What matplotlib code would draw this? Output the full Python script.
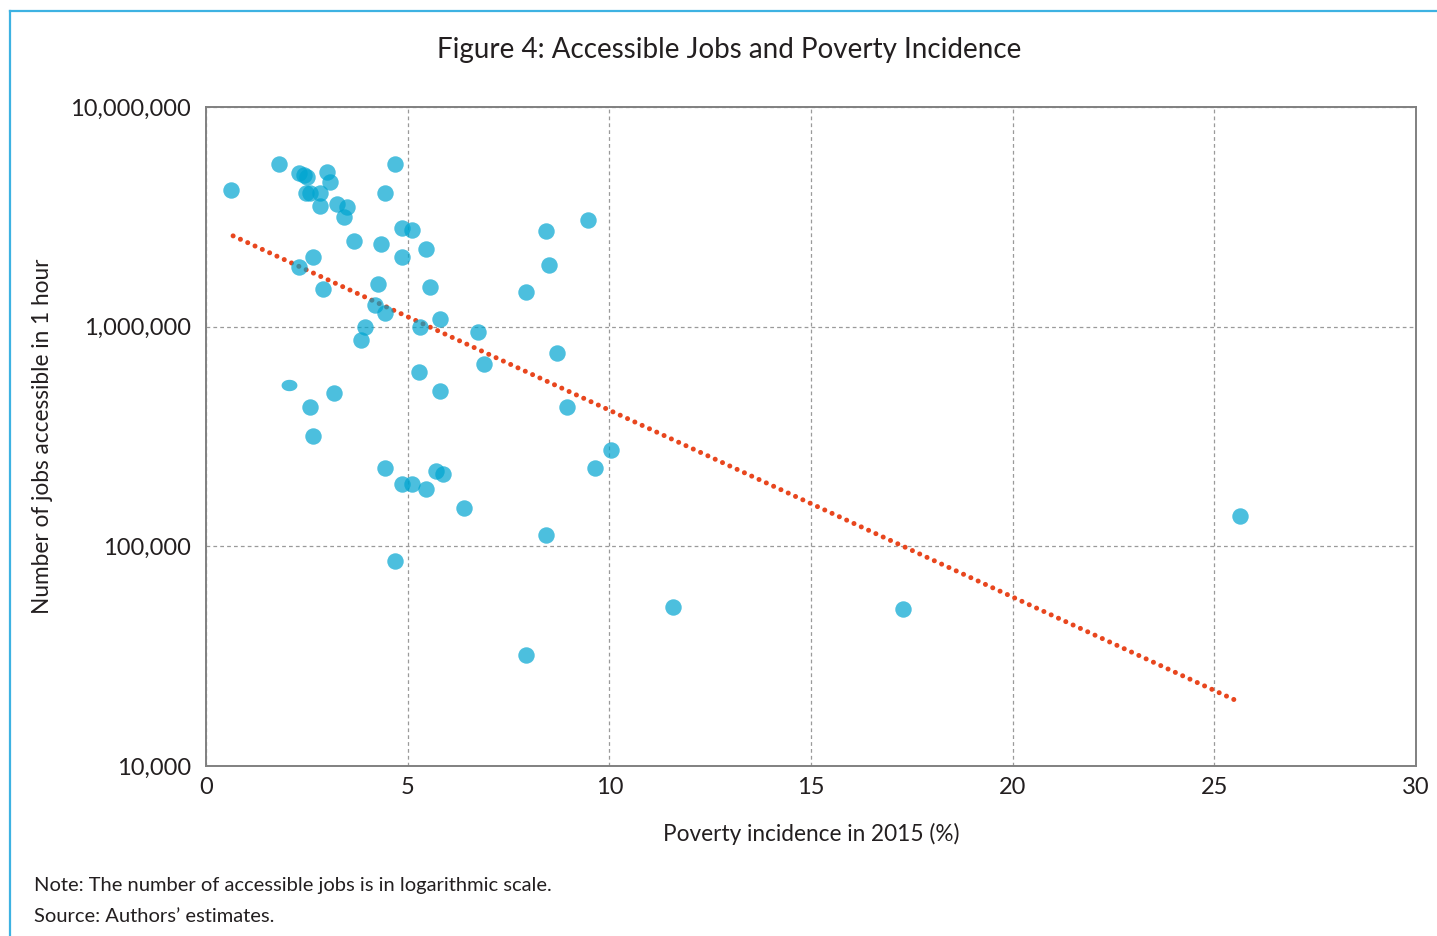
import numpy as np
import matplotlib.pyplot as plt
from matplotlib.lines import Line2D
from matplotlib.path import Path
from matplotlib.ticker import FixedLocator, FuncFormatter, NullLocator

plt.rcParams['font.family'] = ['Lato', 'DejaVu Sans']

# Poverty incidence (%) and jobs accessible in 1 hour
poverty = [0.62, 1.81, 2.31, 2.43, 2.50, 3.00, 3.07, 2.48, 2.58, 2.83,
           2.83, 3.25, 3.50, 3.42, 3.67, 4.44, 4.69, 2.65, 2.31, 2.90,
           4.34, 4.86, 5.11, 4.86, 5.45, 4.26, 4.19, 4.44, 5.55, 5.80,
           5.31, 3.94, 3.84, 6.74, 6.89, 5.28, 5.80, 3.17, 2.58, 2.65,
           4.44, 4.86, 5.11, 5.45, 5.70, 5.88, 6.40, 4.69, 8.43, 8.51,
           9.47, 7.93, 8.70, 8.95, 10.04, 9.65, 8.43, 7.93, 11.58, 17.28,
           25.64]
jobs = [4.19e6, 5.50e6, 5.00e6, 4.90e6, 4.80e6, 5.05e6, 4.56e6, 4.06e6, 4.06e6, 4.06e6,
        3.54e6, 3.62e6, 3.50e6, 3.16e6, 2.45e6, 4.06e6, 5.50e6, 2.08e6, 1.87e6, 1.48e6,
        2.38e6, 2.81e6, 2.74e6, 2.08e6, 2.26e6, 1.56e6, 1.26e6, 1.15e6, 1.52e6, 1.08e6,
        0.996e6, 1.00e6, 0.87e6, 0.946e6, 0.676e6, 0.622e6, 0.509e6, 0.499e6, 0.430e6, 0.318e6,
        0.227e6, 0.192e6, 0.192e6, 0.182e6, 0.220e6, 0.213e6, 0.149e6, 0.0858e6, 2.72e6, 1.91e6,
        3.06e6, 1.44e6, 0.759e6, 0.430e6, 0.275e6, 0.227e6, 0.1126e6, 0.032e6, 0.053e6, 0.0519e6,
        0.1374e6]

# one point drawn squashed in the original
flat_poverty = [2.06]
flat_jobs = [0.543e6]

# trend line end points
trend_x = [0.67, 25.66]
trend_y = [2.59e6, 1.94e4]

x_ticks = [0, 5, 10, 15, 20, 25, 30]
y_ticks = [1e4, 1e5, 1e6, 1e7]

dot_color = '#00A5D0'
text_color = '#231F20'

fig = plt.figure(figsize=(14.37, 9.36), dpi=100)
ax = fig.add_axes([0.1434, 0.1816, 0.8420, 0.7041])

ax.plot(trend_x, trend_y, color='#E8461E', lw=3.6,
        linestyle=(0, (0.01, 1.6)), dash_capstyle='round', zorder=2)

ax.scatter(poverty, jobs, s=140, color=dot_color, alpha=0.7,
           linewidths=0, zorder=3)

t = np.linspace(0, 2 * np.pi, 60)
ellipse = Path(np.column_stack([np.cos(t), 0.72 * np.sin(t)]))
ax.scatter(flat_poverty, flat_jobs, s=130, marker=ellipse, color=dot_color,
           alpha=0.7, linewidths=0, zorder=3)

ax.set_yscale('log')
ax.set_xlim(0, 30)
ax.set_ylim(1e4, 1e7)
ax.xaxis.set_major_locator(FixedLocator(x_ticks))
ax.yaxis.set_major_locator(FixedLocator(y_ticks))
ax.yaxis.set_minor_locator(NullLocator())
ax.yaxis.set_major_formatter(FuncFormatter(lambda v, p: f'{v:,.0f}'))
ax.tick_params(length=0, labelsize=17, colors=text_color)
ax.tick_params(axis='x', pad=8)
ax.tick_params(axis='y', pad=11)

ax.grid(True, color='#9A9A9A', linestyle=(0, (3, 2.5)), linewidth=0.9)
ax.set_axisbelow(True)
for sp in ax.spines.values():
    sp.set_color('#808080')
    sp.set_linewidth(1.4)

ax.set_xlabel('Poverty incidence in 2015 (%)', fontsize=16.3,
              color=text_color, labelpad=18)
ax.set_ylabel('Number of jobs accessible in 1 hour', fontsize=16.3,
              color=text_color, labelpad=12)

fig.text(0.5075, 0.947, 'Figure 4: Accessible Jobs and Poverty Incidence',
         ha='center', va='center', fontsize=20, color=text_color)
fig.text(0.0237, 0.054, 'Note: The number of accessible jobs is in logarithmic scale.',
         ha='left', va='center', fontsize=14.5, color=text_color)
fig.text(0.0237, 0.021, 'Source: Authors\u2019 estimates.',
         ha='left', va='center', fontsize=14.5, color=text_color)

# light blue frame on the top and left edges
frame = dict(color='#3DB2E2', lw=1.6, transform=fig.transFigure)
fig.add_artist(Line2D([0.007, 1.0], [0.988, 0.988], **frame))
fig.add_artist(Line2D([0.007, 0.007], [0.0, 0.988], **frame))

fig.savefig('out.png', dpi=100)
